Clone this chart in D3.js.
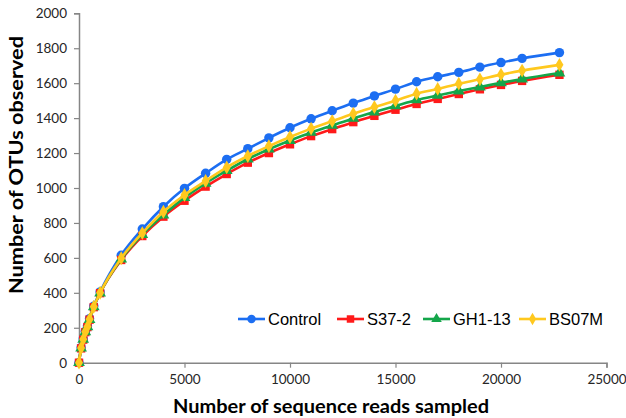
<!DOCTYPE html>
<html><head><meta charset="utf-8">
<script src="https://cdn.jsdelivr.net/npm/d3@7"></script>
<style>html,body{margin:0;padding:0;background:#fff;}svg{display:block;}</style>
</head><body>
<svg id="chart" width="626" height="418"></svg>
<script>
const reads = [0,100,200,300,400,500,700,1000,2000,3000,4000,5000,6000,7000,8000,9000,10000,11000,12000,13000,14000,15000,16000,17000,18000,19000,20000,21000,22770];
const control = [0,86,136,180,210,252,324,405,615,765,893,998,1084,1164,1225,1287,1345,1396,1442,1486,1527,1566,1608,1637,1662,1692,1718,1742,1775];
const s37 = [0,82,132,175,204,246,318,398,588,725,836,927,1008,1080,1145,1200,1250,1297,1337,1377,1413,1448,1481,1510,1538,1565,1590,1613,1648];
const gh113 = [0,83,133,176,205,247,319,399,593,733,845,945,1027,1099,1166,1222,1272,1318,1358,1398,1435,1470,1504,1530,1555,1578,1602,1624,1658];
const bs07m = [0,84,134,177,206,248,320,400,598,742,864,960,1040,1118,1183,1240,1292,1340,1383,1425,1463,1500,1540,1567,1597,1622,1649,1672,1705];
const seriesNames = ["Control","S37-2","GH1-13","BS07M"];
const xTicks = [0,5000,10000,15000,20000,25000];
const yTicks = [0,200,400,600,800,1000,1200,1400,1600,1800,2000];

const colors = ["#1C6EF2","#FF1A1A","#14A64A","#FFC81E"];
const shapes = [d3.symbolCircle, d3.symbolSquare, d3.symbolTriangle, d3.symbolDiamond];
const sizes = [70, 70, 60, 55];
const allSeries = [control, s37, gh113, bs07m];

const svg = d3.select("#chart");
const L = 79, R = 606.5, T = 13.3, B = 362.7;
const x = d3.scaleLinear().domain([0,25000]).range([L,R]);
const y = d3.scaleLinear().domain([0,2000]).range([B,T]);

const axisColor = "#868686";
const tickFont = "Lato, 'Liberation Sans', sans-serif";

const gx = svg.append("g").attr("transform",`translate(0,${B})`)
  .call(d3.axisBottom(x).tickValues(xTicks).tickFormat(d3.format("d")).tickSizeOuter(0).tickSize(5).tickPadding(7));
const gy = svg.append("g").attr("transform",`translate(${L},0)`)
  .call(d3.axisLeft(y).tickValues(yTicks).tickFormat(d3.format("d")).tickSizeOuter(0).tickSize(5).tickPadding(7));
[gx,gy].forEach(g=>{
  g.select(".domain").attr("stroke",axisColor).attr("stroke-width",1.5);
  g.selectAll(".tick line").attr("stroke",axisColor).attr("stroke-width",1.2);
  g.selectAll(".tick text").attr("fill","#262626").style("font-family",tickFont).style("font-size","13.5px");
});

const line = d3.line().x((d,i)=>x(reads[i])).y(d=>y(d)).curve(d3.curveMonotoneX);

allSeries.forEach((vals,k)=>{
  const g = svg.append("g");
  g.append("path").datum(vals).attr("d",line).attr("fill","none")
    .attr("stroke",colors[k]).attr("stroke-width",2.6);
  g.selectAll("path.m").data(vals).enter().append("path").attr("class","m")
    .attr("transform",(d,i)=>`translate(${x(reads[i])},${y(d)})`)
    .attr("d",d3.symbol().type(shapes[k]).size(sizes[k]))
    .attr("fill",colors[k]);
});

// legend
const legX = [238,337,423,519];
const legY = 319;
seriesNames.forEach((name,k)=>{
  const g = svg.append("g").attr("transform",`translate(${legX[k]},${legY})`);
  g.append("line").attr("x1",0).attr("x2",27).attr("y1",0).attr("y2",0)
    .attr("stroke",colors[k]).attr("stroke-width",2.6);
  g.append("path").attr("transform","translate(13.5,0)")
    .attr("d",d3.symbol().type(shapes[k]).size(sizes[k]*0.8)).attr("fill",colors[k]);
  g.append("text").attr("x",30).attr("y",6).text(name)
    .style("font-family","'Liberation Sans', Arial, sans-serif").style("font-size","16.5px").attr("fill","#000");
});

// axis titles
svg.append("text").attr("x",331).attr("y",413).attr("text-anchor","middle")
  .style("font-family","Lato, 'Liberation Sans', sans-serif").style("font-weight","bold").style("font-size","18px")
  .attr("textLength",316).attr("lengthAdjust","spacingAndGlyphs")
  .text("Number of sequence reads sampled");
svg.append("text").attr("transform","translate(23,165) rotate(-90)").attr("text-anchor","middle")
  .style("font-family","Lato, 'Liberation Sans', sans-serif").style("font-weight","bold").style("font-size","18px")
  .attr("textLength",258).attr("lengthAdjust","spacingAndGlyphs")
  .text("Number of OTUs observed");
</script>
</body></html>
